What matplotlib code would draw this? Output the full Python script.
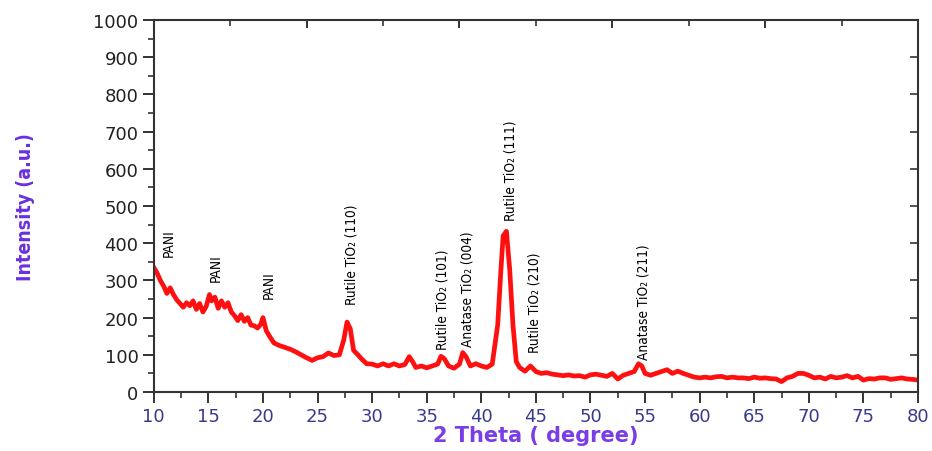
import matplotlib
matplotlib.use("Agg")
import matplotlib.pyplot as plt
from matplotlib.ticker import MultipleLocator, FixedLocator

two_theta = [10, 10.3, 10.6, 10.9, 11.2, 11.5, 11.8, 12.1, 12.4, 12.7, 13.0, 13.3, 13.6, 13.9,
             14.2, 14.5, 14.8, 15.1, 15.3, 15.6, 15.9, 16.2, 16.5, 16.8, 17.1, 17.4, 17.7,
             18.0, 18.3, 18.6, 18.9, 19.2, 19.5, 19.8, 20.0, 20.3, 20.6, 21.0, 21.5, 22.0,
             22.5, 23.0, 23.5, 24.0, 24.5, 25.0, 25.5, 26.0, 26.5, 27.0, 27.4, 27.7, 28.0,
             28.3, 28.7, 29.0, 29.5, 30.0, 30.5, 31.0, 31.5, 32.0, 32.5, 33.0, 33.4, 33.7,
             34.0, 34.5, 35.0, 35.5, 36.0, 36.3, 36.6, 37.0, 37.5, 38.0, 38.3, 38.6, 39.0,
             39.5, 40.0, 40.5, 41.0, 41.5, 41.8, 42.0, 42.3, 42.6, 42.9, 43.2, 43.5, 44.0,
             44.5, 45.0, 45.5, 46.0, 46.5, 47.0, 47.5, 48.0, 48.5, 49.0, 49.5, 50.0, 50.5,
             51.0, 51.5, 52.0, 52.5, 53.0, 53.5, 54.0, 54.4, 54.7, 55.0, 55.5, 56.0, 56.5,
             57.0, 57.5, 58.0, 58.5, 59.0, 59.5, 60.0, 60.5, 61.0, 61.5, 62.0, 62.5, 63.0,
             63.5, 64.0, 64.5, 65.0, 65.5, 66.0, 66.5, 67.0, 67.5, 68.0, 68.5, 69.0, 69.5,
             70.0, 70.5, 71.0, 71.5, 72.0, 72.5, 73.0, 73.5, 74.0, 74.5, 75.0, 75.5, 76.0,
             76.5, 77.0, 77.5, 78.0, 78.5, 79.0, 79.5, 80.0]
intensity = [335, 320, 300, 285, 265, 280, 262, 248, 238, 228, 240, 232, 245, 222,
             238, 215, 230, 262, 245, 255, 225, 245, 228, 240, 215, 205, 192,
             208, 190, 200, 180, 178, 172, 182, 200, 165, 150, 132, 125, 120,
             115, 108, 100, 92, 85, 92, 95, 105, 98, 100, 140, 188, 170,
             112, 100, 90, 76, 75, 70, 76, 70, 76, 70, 74, 95, 82,
             66, 70, 65, 70, 75, 96, 90, 70, 64, 75, 106, 95, 70,
             76, 70, 66, 75, 180, 330, 420, 432, 330, 180, 82, 66, 56,
             70, 55, 50, 52, 48, 46, 44, 46, 43, 44, 40, 46, 48,
             45, 42, 50, 35, 45, 50, 55, 76, 70, 50, 45, 50, 55,
             60, 50, 56, 50, 45, 40, 38, 40, 38, 41, 42, 38, 40,
             38, 38, 36, 40, 37, 38, 36, 35, 28, 38, 42, 50, 50,
             45, 38, 40, 35, 42, 38, 40, 44, 38, 42, 32, 36, 35,
             38, 38, 34, 36, 38, 35, 34, 32]

labels = ["PANI", "PANI", "PANI", "Rutile TiO\u2082 (110)", "Rutile TiO\u2082 (101)",
          "Anatase TiO\u2082 (004)", "Rutile TiO\u2082 (111)", "Rutile TiO\u2082 (210)",
          "Anatase TiO\u2082 (211)"]
label_x = [11.4, 15.7, 20.5, 28.1, 36.4, 38.7, 42.7, 44.9, 54.9]
label_y = [365, 298, 252, 236, 116, 124, 462, 108, 89]

fig = plt.figure(figsize=(9.32, 4.52), dpi=100)
ax = fig.add_axes([0.165, 0.1305, 0.82, 0.823])
ax.plot(two_theta, intensity, color='#ff1010', lw=3.4, solid_joinstyle='round')
ax.set_xlim(10, 80)
ax.set_ylim(0, 1000)

ax.xaxis.set_major_locator(MultipleLocator(5))
ax.xaxis.set_minor_locator(MultipleLocator(2.5))
ax.yaxis.set_major_locator(MultipleLocator(100))
ax.yaxis.set_minor_locator(MultipleLocator(50))
ax.tick_params(axis='both', which='major', direction='out', length=8, width=1.4, color='#333333')
ax.tick_params(axis='both', which='minor', direction='out', length=4, width=1.2, color='#333333')
ax.tick_params(axis='x', labelsize=13, labelcolor='#3a3a8c', pad=3)
ax.tick_params(axis='y', labelsize=13, labelcolor='#222222', pad=3)
for s in ax.spines.values():
    s.set_color('#333333')
    s.set_linewidth(1.5)

for lab in ax.get_xticklabels() + ax.get_yticklabels():
    lab.set_family('DejaVu Sans')

ax.set_xlabel("2 Theta ( degree)", fontsize=15, fontweight='bold', color='#7a3de6',
              family='DejaVu Sans', labelpad=0)
ax.set_ylabel("Intensity (a.u.)", fontsize=14, fontweight='bold', color='#6a2fe0',
              family='DejaVu Sans', fontstretch='condensed', labelpad=42)

for t, x, y in zip(labels, label_x, label_y):
    ax.text(x, y, t, rotation=90, ha='center', va='bottom', fontsize=9.8,
            family='DejaVu Sans', fontstretch='condensed', color='black')

# top axis ticks
axt = ax.twiny()
axt.set_xlim(10, 80)
axt.xaxis.set_major_locator(FixedLocator([24, 38, 52, 66, 80]))
axt.xaxis.set_minor_locator(FixedLocator([17, 31, 45, 59, 73]))
axt.tick_params(axis='x', which='major', direction='in', length=6, width=1.4, color='#333333',
                labeltop=False)
axt.tick_params(axis='x', which='minor', direction='in', length=4, width=1.2, color='#333333')
# right axis ticks
axr = ax.twinx()
axr.set_ylim(0, 1000)
axr.yaxis.set_major_locator(MultipleLocator(100))
axr.tick_params(axis='y', which='major', direction='in', length=6, width=1.2, color='#333333',
                labelright=False)
for a in (axt, axr):
    for s in a.spines.values():
        s.set_visible(False)

fig.savefig("out.png", dpi=100, facecolor='white')
